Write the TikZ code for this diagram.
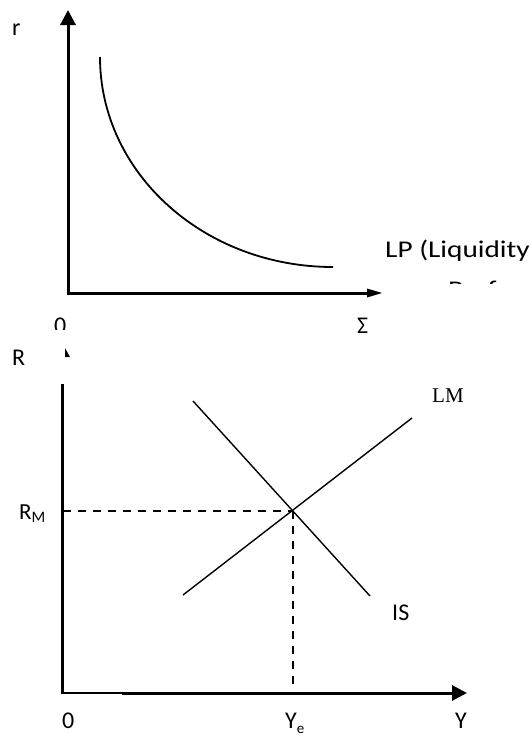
\documentclass[tikz,border=0pt]{standalone}
\usepackage{fontspec}
\setmainfont{Carlito}
\newfontfamily\lmfont{Liberation Serif}
\usetikzlibrary{arrows.meta}

\begin{document}
\begin{tikzpicture}[x=1pt,y=-1pt,
    axis/.style={line width=3pt},
    curve/.style={line width=1.8pt},
    sched/.style={line width=1.4pt},
    guide/.style={line width=1.3pt,dash pattern=on 8pt off 7pt},
    lbl/.style={inner sep=0pt,anchor=base west,font=\fontsize{24}{29}\selectfont}]
    \useasboundingbox (0,0) rectangle (532,736);

    % Panel atas: kurva preferensi likuiditas
    \coordinate (o1) at (68,293);
    \coordinate (rtop) at (68,10);
    \coordinate (mend) at (383,293);
    \draw[axis,-{Triangle[length=15pt,width=15pt]}] (o1) -- (rtop);
    \draw[axis,-{Triangle[length=16pt,width=8pt]}] (66.5,293) -- (mend);

    % Kurva LP
    \coordinate (lpa) at (100,57);
    \coordinate (lpb) at (333,267);
    \draw[curve] (lpa) .. controls (100,173) and (204,267) .. (lpb);

    % Label panel atas
    \node[lbl] (r) at (12,35) {r};
    \node[lbl] (lp) at (385,257) {\scalebox{1.22}[1]{LP (Liquidity}};
    \begin{scope}
        \clip (380,270) rectangle (532,283);
        \node[lbl] (lp2) at (448,297) {\scalebox{1.22}[1]{Preference)}};
    \end{scope}
    \begin{scope}
        \clip (40,300) rectangle (90,329);
        \node[lbl] (o1lbl) at (54,333) {0};
    \end{scope}
    \node[lbl] (m) at (357,333) {Σ};

    % Panel bawah: IS-LM
    \fill (65,348) -- (70,357) -- (65,357) -- cycle;
    \coordinate (o2) at (62,693);
    \coordinate (rtop2) at (62,384);
    \coordinate (ybreak) at (122,693);
    \coordinate (yend) at (467,693);
    \draw[axis] (o2) -- (rtop2);
    \draw[line width=1.7pt] (60.5,693) -- (ybreak);
    \draw[axis,-{Triangle[length=15pt,width=15pt]}] (ybreak) -- (yend);

    % Kurva IS dan LM
    \coordinate (isa) at (193,401);
    \coordinate (isb) at (370,596);
    \coordinate (lma) at (183,595);
    \coordinate (lmb) at (412,418);
    \draw[sched] (isa) -- (isb);
    \draw[sched] (lma) -- (lmb);

    % Titik keseimbangan dan garis bantu
    \coordinate (eq) at (293,511);
    \coordinate (rmaxis) at (63,511);
    \coordinate (yefoot) at (293,684);
    \draw[guide] (rmaxis) -- (eq);
    \draw[guide] (eq) -- (yefoot);

    % Label panel bawah
    \node[lbl] (R) at (12,365) {R};
    \node[lbl,font=\fontsize{23}{27}\selectfont] (rm) at (19,519)
        {R\raisebox{-3pt}{\fontsize{16}{18}\selectfont M}};
    \node[lbl,font=\fontsize{21}{25}\lmfont] (lm) at (432,402) {LM};
    \node[lbl] (is) at (392,620) {IS};
    \node[lbl] (o2lbl) at (62,728) {0};
    \node[lbl] (ye) at (285,728)
        {Y\raisebox{-5pt}{\fontsize{15}{17}\selectfont e}};
    \node[lbl] (y) at (455,728) {Y};
\end{tikzpicture}
\end{document}
